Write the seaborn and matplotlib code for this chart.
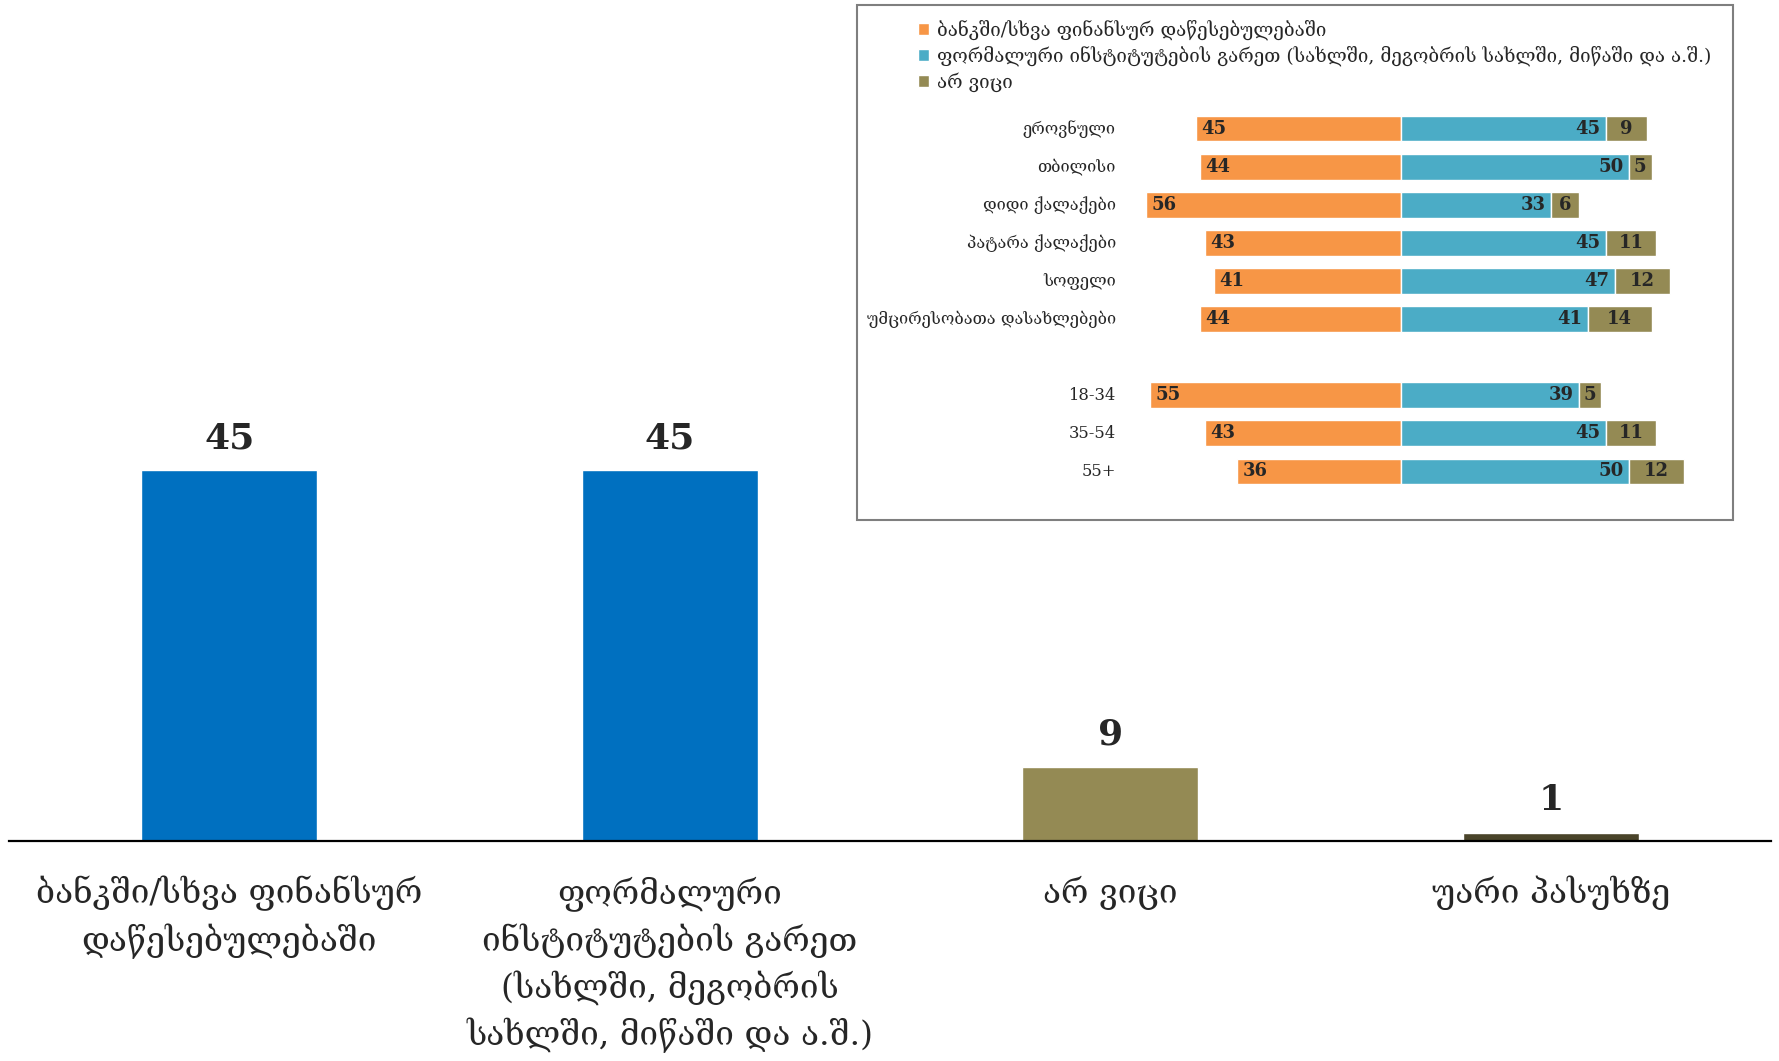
import numpy as np
import pandas as pd
import matplotlib
matplotlib.use('Agg')
import matplotlib.pyplot as plt
from matplotlib.patches import Rectangle, Patch
import seaborn as sns

# main chart data
main_cats = ['ბანკში/სხვა ფინანსურ\nდაწესებულებაში',
             'ფორმალური\nინსტიტუტების გარეთ\n(სახლში, მეგობრის\nსახლში, მიწაში და ა.შ.)',
             'არ ვიცი',
             'უარი პასუხზე']
main_vals = [45, 45, 9, 1]
main_colors = ['#0070C0', '#0070C0', '#948A54', '#4A442A']

# inset data (row 6 is a blank spacer)
rows = ['ეროვნული', 'თბილისი', 'დიდი ქალაქები', 'პატარა ქალაქები', 'სოფელი',
        'უმცირესობათა დასახლებები', '18-34', '35-54', '55+']
row_pos = [0, 1, 2, 3, 4, 5, 7, 8, 9]
bank = [45, 44, 56, 43, 41, 44, 55, 43, 36]
outside = [45, 50, 33, 45, 47, 41, 39, 45, 50]
dontknow = [9, 5, 6, 11, 12, 14, 5, 11, 12]
legend_labels = ['ბანკში/სხვა ფინანსურ დაწესებულებაში',
                 'ფორმალური ინსტიტუტების გარეთ (სახლში, მეგობრის სახლში, მიწაში და ა.შ.)',
                 'არ ვიცი']
inset_colors = ['#F79646', '#4BACC6', '#948A54']

sns.set_theme(style='white')
plt.rcParams['font.family'] = ['DejaVu Serif', 'DejaVu Sans']

W, H = 1779, 1061
fig = plt.figure(figsize=(W / 100, H / 100), dpi=100)

# ========== MAIN BARS ==========
ax = fig.add_axes([9 / W, 220 / H, 1762 / W, 741 / H])
df = pd.DataFrame({'cat': main_cats, 'val': main_vals})
sns.barplot(data=df, x='cat', y='val', hue='cat', palette=main_colors,
            legend=False, width=0.4, saturation=1, ax=ax)
ax.set_xlim(-0.5, 3.5)
ax.set_ylim(0, 90)
for c in ax.containers:
    ax.bar_label(c, padding=11, fontsize=26, fontweight='bold')
ax.set_xlabel('')
ax.set_ylabel('')
ax.set_yticks([])
ax.tick_params(axis='x', length=0, pad=25, labelsize=24)
for t in ax.get_xticklabels():
    t.set_linespacing(1.45)
    t.set_va('top')
for s in ['top', 'left', 'right']:
    ax.spines[s].set_visible(False)
ax.spines['bottom'].set_color('black')
ax.spines['bottom'].set_linewidth(1.6)

# ========== INSET BOX ==========
fig.patches.append(Rectangle((857 / W, 1 - 520 / H), 876 / W, 515 / H,
                             transform=fig.transFigure, facecolor='white',
                             edgecolor='#7f7f7f', linewidth=1.5, zorder=2))

ax2 = fig.add_axes([1120 / W, 1 - 495 / H, 600 / W, 390 / H], zorder=3)
ax2.patch.set_alpha(0)
bank_n = -np.array(bank)
ax2.barh(row_pos, bank_n, height=0.66, color=inset_colors[0])
ax2.barh(row_pos, outside, height=0.66, color=inset_colors[1])
ax2.barh(row_pos, dontknow, left=outside, height=0.66, color=inset_colors[2])
ax2.set_xlim(-61.6, 70)
ax2.set_ylim(9.63, -0.63)
ax2.axis('off')

for y, lab, b, o, d in zip(row_pos, rows, bank, outside, dontknow):
    ax2.text(-62.5, y, lab, ha='right', va='center', fontsize=11.8)
    ax2.text(-b + 1.2, y, str(b), ha='left', va='center', fontsize=13, fontweight='bold')
    ax2.text(o - 1.2, y, str(o), ha='right', va='center', fontsize=13, fontweight='bold')
    ax2.text(o + d / 2, y, str(d), ha='center', va='center', fontsize=13, fontweight='bold')

handles = [Patch(facecolor=c) for c in inset_colors]
fig.legend(handles, legend_labels, loc='upper left',
           bbox_to_anchor=(918 / W, 1 - 20 / H), frameon=False, fontsize=13.5,
           handlelength=0.6, handleheight=0.6, handletextpad=0.4,
           labelspacing=0.3, borderpad=0, borderaxespad=0)

fig.savefig('out.png', dpi=100)
